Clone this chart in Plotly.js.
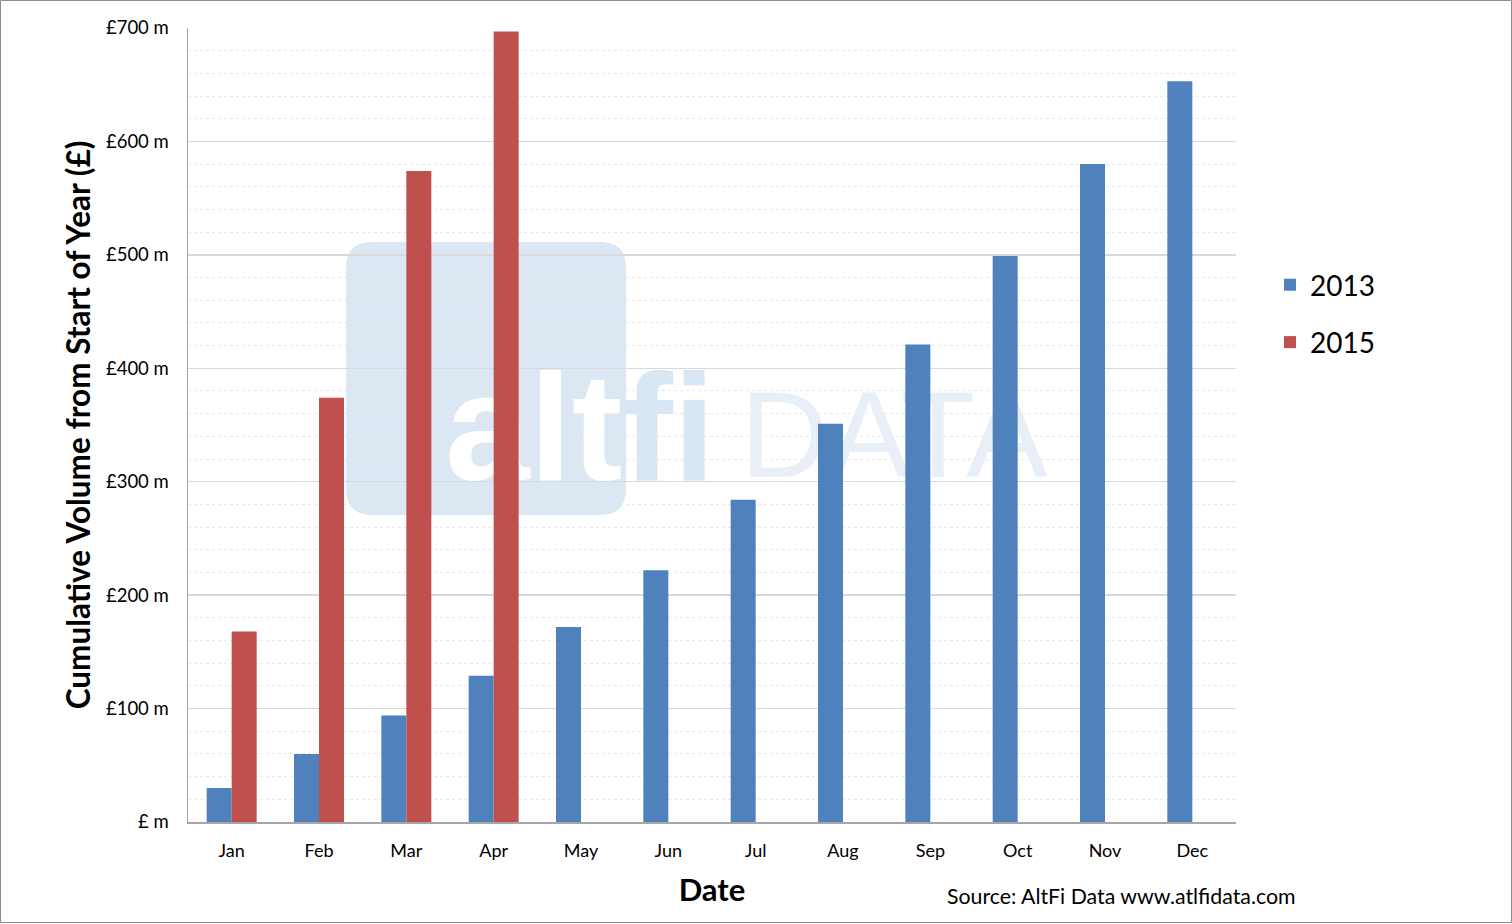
<!DOCTYPE html>
<html>
<head>
<meta charset="utf-8">
<script src="https://cdn.plot.ly/plotly-3.0.1.min.js"></script>
<style>
html,body{margin:0;padding:0;background:#fff;}
#chart{width:1512px;height:924px;}
</style>
</head>
<body>
<div id="chart"></div>
<script>
const months = ['Jan','Feb','Mar','Apr','May','Jun','Jul','Aug','Sep','Oct','Nov','Dec'];
const vol2013 = [30, 60, 94, 129, 172, 222, 284, 351, 421, 499, 580, 653];
const vol2015 = [168, 374, 574, 697, null, null, null, null, null, null, null, null];
const yTickVals = [0, 100, 200, 300, 400, 500, 600, 700];
const yTickText = ['£ m','£100 m','£200 m','£300 m','£400 m','£500 m','£600 m','£700 m'];
const seriesNames = ['2013', '2015'];
const sourceText = 'Source: AltFi Data www.atlfidata.com';

const FONT = 'Lato, "Open Sans", sans-serif';

// plot area in pixels (for the watermark / frame placement)
const W = 1512, H = 924, L = 188, R = 276, T = 28, B = 102;
const PW = W - L - R, PH = H - T - B;
const fx = px => (px - L) / PW;
const fy = py => (H - B - py) / PH;

// rounded watermark box (in the hidden [0,1] axes)
function roundRect(x0p, y0p, x1p, y1p, rp) {
  const x0 = fx(x0p), x1 = fx(x1p), yt = fy(y0p), yb = fy(y1p);
  const rx = rp / PW, ry = rp / PH;
  return `M${x0+rx},${yt} L${x1-rx},${yt} Q${x1},${yt} ${x1},${yt-ry} L${x1},${yb+ry} Q${x1},${yb} ${x1-rx},${yb} L${x0+rx},${yb} Q${x0},${yb} ${x0},${yb+ry} L${x0},${yt-ry} Q${x0},${yt} ${x0+rx},${yt} Z`;
}

const traces = [
  {
    type: 'scatter', mode: 'text', xaxis: 'x', yaxis: 'y',
    x: [fx(580), fx(894)], y: [fy(442), fy(446)],
    text: ['<span style="color:#ffffff">alt</span><span style="color:#d9e6f3">fi</span>', 'DATA'],
    textfont: {family: '"Liberation Sans", Arial, sans-serif', size: [152, 122], color: ['#ffffff', '#e9eff7'], weight: [700, 400]},
    textposition: 'middle center', hoverinfo: 'skip', showlegend: false, cliponaxis: false
  },
  {
    type: 'bar', name: seriesNames[0], x: months, y: vol2013, xaxis: 'x2', yaxis: 'y2',
    marker: {color: '#4f81bd'}, legendgroup: 'a'
  },
  {
    type: 'bar', name: seriesNames[1], x: months, y: vol2015, xaxis: 'x2', yaxis: 'y2',
    marker: {color: '#c0504d'}, legendgroup: 'b'
  }
];

const layout = {
  width: W, height: H,
  margin: {l: L, r: R, t: T, b: B, pad: 0},
  paper_bgcolor: '#ffffff',
  plot_bgcolor: 'rgba(0,0,0,0)',
  font: {family: FONT, color: '#000000', size: 17},
  barmode: 'group', bargap: 0.4275, bargroupgap: 0,
  showlegend: true,
  legend: {
    x: fx(1270), y: fy(260), xanchor: 'left', yanchor: 'top',
    font: {family: FONT, size: 28, color: '#000'},
    traceorder: 'grouped', tracegroupgap: 18,
    itemwidth: 30, bgcolor: 'rgba(0,0,0,0)'
  },
  xaxis: {visible: false, range: [0, 1], fixedrange: true},
  yaxis: {visible: false, range: [0, 1], fixedrange: true},
  xaxis2: {
    overlaying: 'x', anchor: 'y2', side: 'bottom', type: 'category',
    showgrid: false, showline: true, linecolor: '#a6a6a6', linewidth: 1.5,
    ticks: '', ticklabelstandoff: 12,
    tickfont: {family: FONT, size: 18, color: '#000'},
    title: {text: 'Date', font: {family: FONT, size: 31, weight: 700, color: '#000'}, standoff: 19}
  },
  yaxis2: {
    overlaying: 'y', anchor: 'x2', side: 'left', range: [0, 700],
    tickvals: yTickVals, ticktext: yTickText,
    showgrid: true, gridcolor: '#d9d9d9', gridwidth: 1.5,
    minor: {dtick: 20, showgrid: true, gridcolor: '#e8e8e8', griddash: 'dot', gridwidth: 1},
    showline: true, linecolor: '#a6a6a6', linewidth: 1.5, zeroline: false,
    ticks: '', ticklabelstandoff: 14,
    tickfont: {family: FONT, size: 18.5, color: '#000'},
    title: {text: 'Cumulative Volume from Start of Year (£)', font: {family: FONT, size: 31.5, weight: 700, color: '#000'}, standoff: 6}
  },
  shapes: [
    {type: 'path', xref: 'x', yref: 'y', layer: 'below', path: roundRect(346, 242, 626, 515, 26),
     fillcolor: '#dbe7f3', line: {width: 0}},
    {type: 'rect', xref: 'paper', yref: 'paper', layer: 'above',
     x0: (0.5 - L) / PW, x1: (W - 0.5 - L) / PW, y0: -(B - 1.5) / PH, y1: (H - B - 0.5) / PH,
     line: {color: '#8c8c8c', width: 1}, fillcolor: 'rgba(0,0,0,0)'}
  ],
  annotations: [
    {text: sourceText, xref: 'paper', yref: 'paper', x: fx(1297), y: fy(896),
     xanchor: 'right', yanchor: 'middle', showarrow: false,
     font: {family: FONT, size: 21.3, color: '#000'}}
  ]
};

Plotly.newPlot('chart', traces, layout, {displayModeBar: false, staticPlot: true});
</script>
</body>
</html>
